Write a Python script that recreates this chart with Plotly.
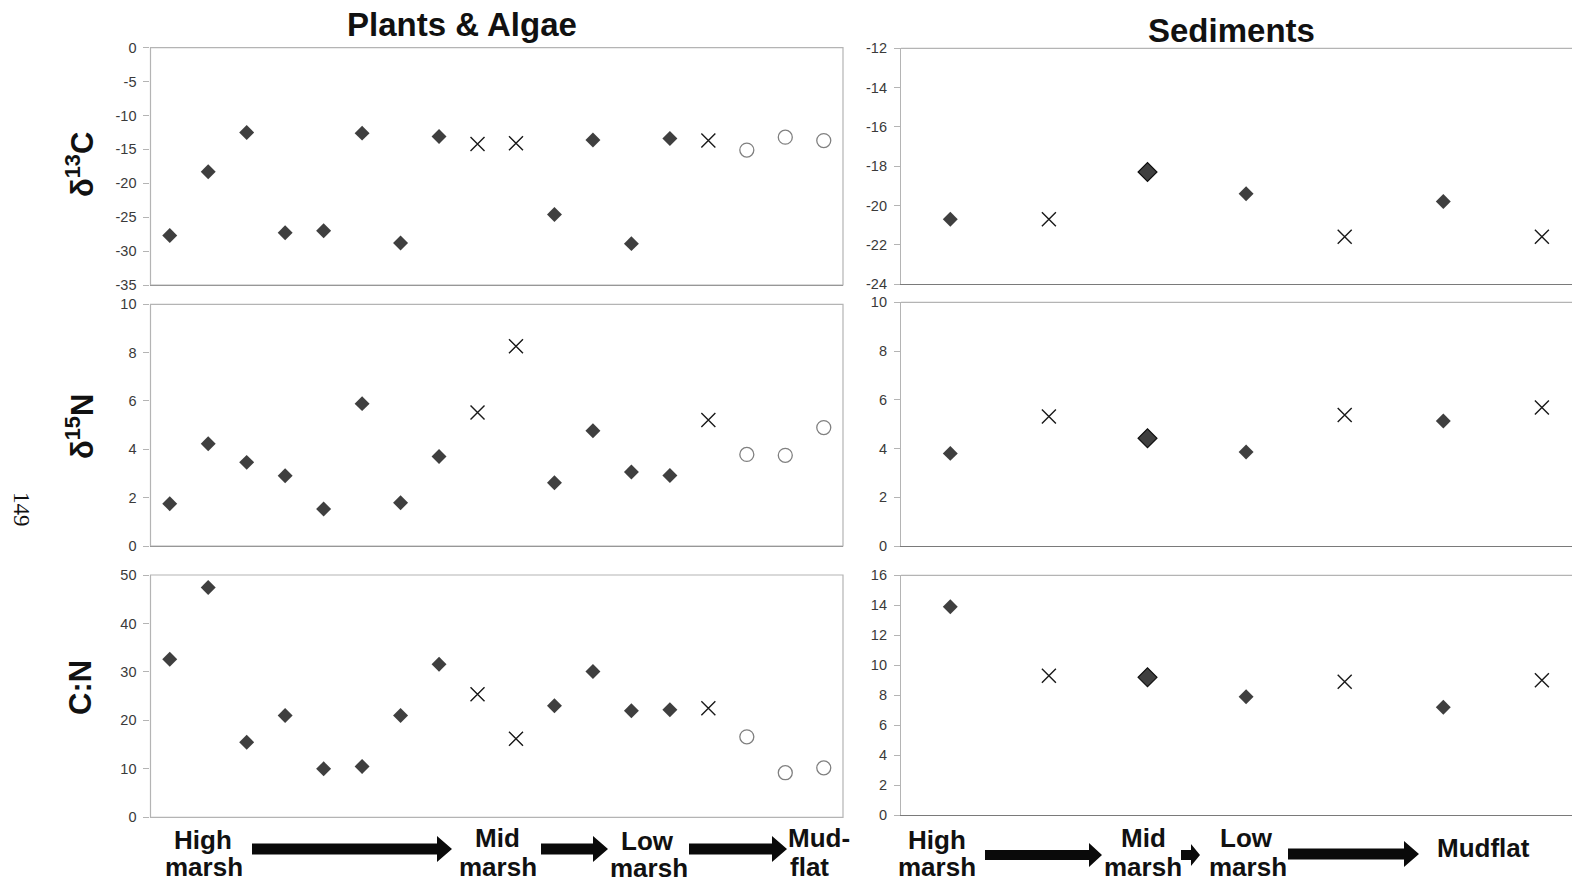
import plotly.graph_objects as go

W, H = 1572, 883

# ---------------- data ----------------
plant_x = list(range(1, 19))
# D = filled diamond, X = cross, O = open circle
plant_group = ["D", "D", "D", "D", "D", "D", "D", "D", "X", "X",
               "D", "D", "D", "D", "X", "O", "O", "O"]
plant_d13c = [-27.7, -18.3, -12.5, -27.3, -27.0, -12.6, -28.8, -13.1, -14.2, -14.1,
              -24.6, -13.6, -28.9, -13.4, -13.7, -15.1, -13.2, -13.7]
plant_d15n = [1.75, 4.23, 3.46, 2.91, 1.53, 5.89, 1.79, 3.70, 5.52, 8.26,
              2.62, 4.77, 3.06, 2.92, 5.21, 3.79, 3.75, 4.90]
plant_cn = [32.6, 47.4, 15.5, 21.0, 10.0, 10.5, 21.0, 31.6, 25.4, 16.2,
            23.0, 30.1, 22.0, 22.2, 22.5, 16.6, 9.2, 10.2]

sed_x = list(range(1, 8))
sed_group = ["D", "X", "D", "D", "X", "D", "X"]
sed_d13c = [-20.7, -20.7, -18.3, -19.4, -21.6, -19.8, -21.6]
sed_d15n = [3.80, 5.31, 4.42, 3.86, 5.38, 5.13, 5.68]
sed_cn = [13.9, 9.3, 9.2, 7.9, 8.9, 7.2, 9.0]

plant_ticks = {"d13c": [-35, -30, -25, -20, -15, -10, -5, 0],
               "d15n": [0, 2, 4, 6, 8, 10],
               "cn": [0, 10, 20, 30, 40, 50]}
sed_ticks = {"d13c": [-24, -22, -20, -18, -16, -14, -12],
             "d15n": [0, 2, 4, 6, 8, 10],
             "cn": [0, 2, 4, 6, 8, 10, 12, 14, 16]}

row_titles = ["δ<sup>13</sup>C", "δ<sup>15</sup>N", "C:N"]
col_titles = ["Plants & Algae", "Sediments"]

# ---------------- layout helpers ----------------
def px(x):
    return x / W

def py(y):
    return 1 - y / H

# pixel boxes (left, right, top, bottom)
left_x = (150.5, 843.0)
right_x = (901.0, 1572.0)
left_rows = [(47.7, 285.0), (304.3, 546.0), (575.0, 817.3)]
right_rows = [(48.3, 284.0), (302.3, 546.0), (575.3, 815.3)]

fig = go.Figure()

TICKFONT = dict(family="Liberation Sans, Arial", size=14.5, color="#3a3a3a")
DIAMOND = "#3f3f3f"

marker_styles = {
    "D": dict(symbol="diamond", size=11.5, color=DIAMOND, line=dict(width=0)),
    "X": dict(symbol="x-thin-open", size=14, color="#1a1a1a", line=dict(width=1.4, color="#1a1a1a")),
    "O": dict(symbol="circle-open", size=14, color="#808080", line=dict(width=1.3, color="#808080")),
}
BOLD_DIAMOND = dict(symbol="diamond", size=14.5, color=DIAMOND, line=dict(width=1.2, color="#111111"))

plant_series = [plant_d13c, plant_d15n, plant_cn]
sed_series = [sed_d13c, sed_d15n, sed_cn]
keys = ["d13c", "d15n", "cn"]

shapes = []
annotations = []
ax_i = 0
for r in range(3):
    for c in range(2):
        ax_i += 1
        xa = "x" if ax_i == 1 else f"x{ax_i}"
        ya = "y" if ax_i == 1 else f"y{ax_i}"
        xlay = "xaxis" if ax_i == 1 else f"xaxis{ax_i}"
        ylay = "yaxis" if ax_i == 1 else f"yaxis{ax_i}"
        if c == 0:
            xs, ys, groups = plant_x, plant_series[r], plant_group
            tv = plant_ticks[keys[r]]
            xd = (px(left_x[0]), px(left_x[1]))
            top, bot = left_rows[r]
            xr = [0.5, 18.5]
        else:
            xs, ys, groups = sed_x, sed_series[r], sed_group
            tv = sed_ticks[keys[r]]
            xd = (px(right_x[0]), 1.0)
            top, bot = right_rows[r]
            spacing = 98.6
            xr = [0.5, 0.5 + (right_x[1] - right_x[0]) / spacing]
        yd = (py(bot), py(top))
        for g in ["D", "X", "O"]:
            pts = [(x, y) for x, y, gg in zip(xs, ys, groups) if gg == g]
            if not pts:
                continue
            normal = [p for p in pts if not (c == 1 and g == "D" and p[0] == 3)]
            bold = [p for p in pts if (c == 1 and g == "D" and p[0] == 3)]
            for sub, m in ((normal, marker_styles[g]), (bold, BOLD_DIAMOND)):
                if not sub:
                    continue
                fig.add_trace(go.Scatter(x=[p[0] for p in sub], y=[p[1] for p in sub],
                                         mode="markers", marker=m,
                                         xaxis=xa, yaxis=ya, showlegend=False,
                                         hoverinfo="x+y"))
        fig.layout[xlay] = dict(domain=list(xd), range=xr, showgrid=False, zeroline=False,
                                showticklabels=False, ticks="", showline=True,
                                linecolor="#7a7a7a", linewidth=1.2, anchor=ya,
                                automargin=False)
        fig.layout[ylay] = dict(domain=list(yd), range=[tv[0], tv[-1]],
                                tickmode="array", tickvals=tv,
                                ticktext=[str(v) for v in tv],
                                showgrid=False, zeroline=False, showline=True,
                                linecolor="#b4b4b4", linewidth=1.2, ticks="outside",
                                ticklen=6, tickcolor="#b4b4b4", tickfont=TICKFONT,
                                ticklabelstandoff=4, anchor=xa, automargin=False)
        if c == 0:
            shapes.append(dict(type="rect", xref=f"{xa} domain", yref=f"{ya} domain",
                               x0=0, x1=1, y0=0, y1=1,
                               line=dict(color="#b4b4b4", width=1.2)))
        else:
            shapes.append(dict(type="line", xref=f"{xa} domain", yref=f"{ya} domain",
                               x0=0, x1=1, y0=1, y1=1,
                               line=dict(color="#b4b4b4", width=1.2)))

# column titles
TITLEFONT = dict(family="Liberation Sans, Arial", size=33, color="#111111")
annotations.append(dict(text="<b>" + col_titles[0] + "</b>", x=px(462), y=py(24),
                        xref="paper", yref="paper", showarrow=False, font=TITLEFONT,
                        xanchor="center", yanchor="middle"))
annotations.append(dict(text="<b>" + col_titles[1] + "</b>", x=px(1231), y=py(31),
                        xref="paper", yref="paper", showarrow=False, font=TITLEFONT,
                        xanchor="center", yanchor="middle"))

# row titles
row_y = [165, 427, 688]
for t, yy in zip(row_titles, row_y):
    annotations.append(dict(text="<b>" + t + "</b>", x=px(80), y=py(yy), xref="paper",
                            yref="paper", showarrow=False, textangle=-90,
                            font=dict(family="Liberation Sans, Arial", size=31, color="#111111"),
                            xanchor="center", yanchor="middle"))

# page number
annotations.append(dict(text="149", x=px(22), y=py(509), xref="paper", yref="paper",
                        showarrow=False, textangle=90,
                        font=dict(family="Liberation Serif, Times New Roman", size=23,
                                  color="#111111"),
                        xanchor="center", yanchor="middle"))

# zone labels along the bottom
LABFONT = dict(family="Liberation Sans, Arial", size=26, color="#111111")
zone_labels = [
    ("High", 203, 840), ("marsh", 204, 867),
    ("Mid", 498, 838), ("marsh", 498, 867),
    ("Low", 647, 841), ("marsh", 649, 868),
    ("Mud-", 819, 838), ("flat", 809, 867),
    ("High", 937, 840), ("marsh", 937, 867),
    ("Mid", 1143, 838), ("marsh", 1143, 867),
    ("Low", 1246, 838), ("marsh", 1248, 867),
    ("Mudflat", 1483, 848),
]
for t, xx, yy in zone_labels:
    annotations.append(dict(text="<b>" + t + "</b>", x=px(xx), y=py(yy), xref="paper",
                            yref="paper", showarrow=False, font=LABFONT, borderpad=0,
                            xanchor="center", yanchor="middle"))

# thick arrows between zone labels
def arrow_path(x0, x1, yc, shaft=11, head_len=15, head_h=26):
    xh = x1 - head_len
    pts = [(x0, yc - shaft / 2), (xh, yc - shaft / 2), (xh, yc - head_h / 2), (x1, yc),
           (xh, yc + head_h / 2), (xh, yc + shaft / 2), (x0, yc + shaft / 2)]
    return "M " + " L ".join(f"{px(a):.5f},{py(b):.5f}" for a, b in pts) + " Z"

arrows = [
    (252, 452, 849, 11, 15, 26),
    (541, 608, 849, 11, 15, 26),
    (689, 787, 849, 11, 15, 26),
    (985, 1102, 855, 10, 13, 24),
    (1181, 1200, 855, 10, 9, 22),
    (1288, 1419, 854, 11, 15, 26),
]
for a in arrows:
    shapes.append(dict(type="path", xref="paper", yref="paper", path=arrow_path(*a),
                       fillcolor="#0a0a0a", line=dict(width=0)))

fig.update_layout(width=W, height=H, autosize=False,
                  margin=dict(l=0, r=0, t=0, b=0, pad=0, autoexpand=False),
                  paper_bgcolor="white", plot_bgcolor="white",
                  shapes=shapes, annotations=annotations, showlegend=False)

fig.write_html("out.html",
               config={"displayModeBar": False, "responsive": False},
               post_script="document.body.style.margin='0';document.body.style.overflow='hidden';")
